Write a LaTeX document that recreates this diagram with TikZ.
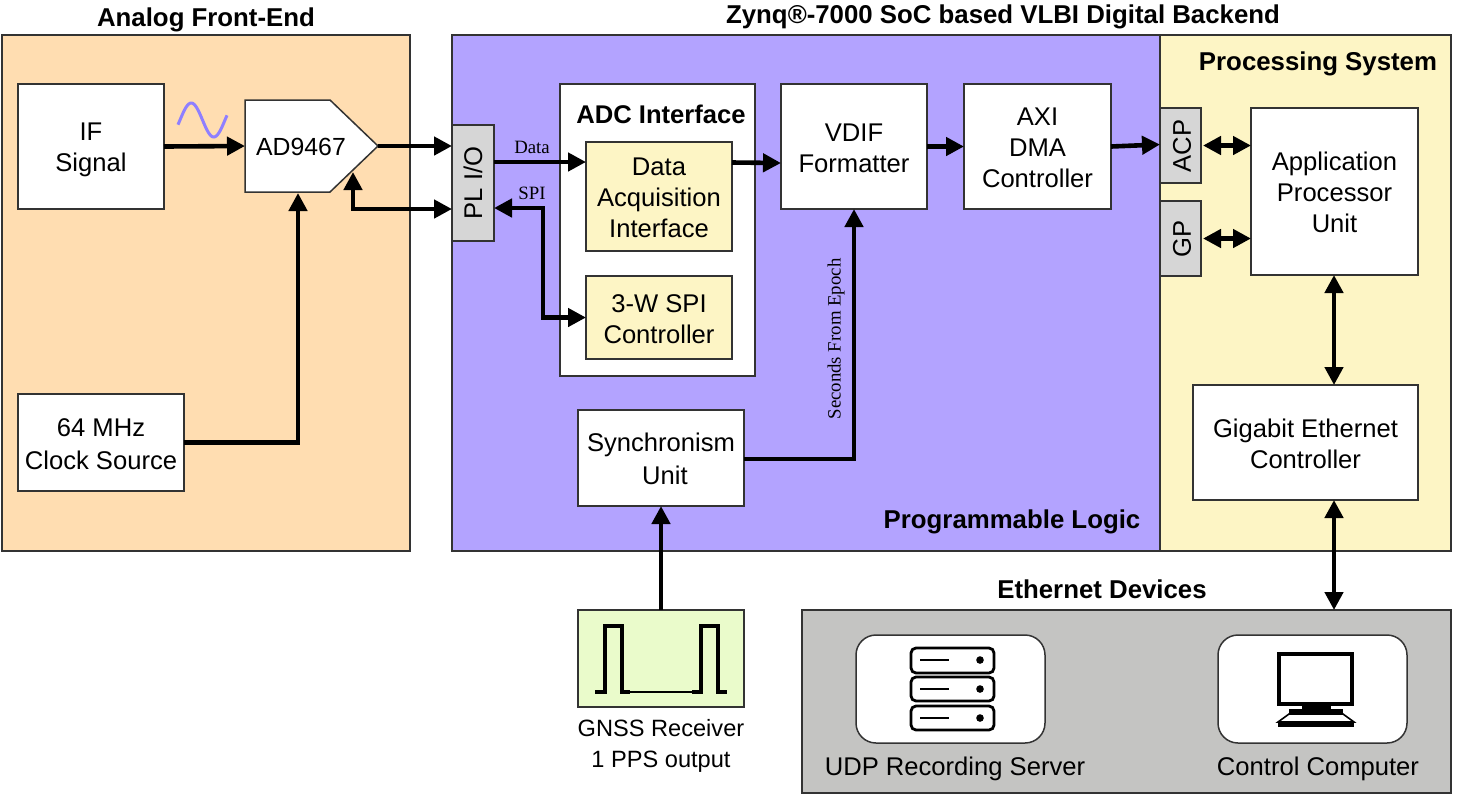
\documentclass[tikz,border=0pt]{standalone}
\usepackage{fontspec}
\setmainfont{Liberation Sans}
\newfontfamily\serifsmall{Liberation Serif}
\usetikzlibrary{arrows.meta,calc}
\definecolor{frontend}{HTML}{FFDDB1}
\definecolor{plogic}{HTML}{B3A3FF}
\definecolor{psys}{HTML}{FDF5C5}
\definecolor{ethgray}{HTML}{C4C4C2}
\definecolor{portgray}{HTML}{D6D6D6}
\definecolor{gnssgreen}{HTML}{EAFBCB}
\definecolor{edge}{HTML}{333333}
\definecolor{sinecol}{HTML}{8F7FFF}
\newcommand{\pxbox}[7]{%
  \pgfmathsetmacro{\bw}{(#4-#2)/2}%
  \pgfmathsetmacro{\bh}{(#5-#3)/2}%
  \pgfmathsetmacro{\bcx}{(#2+#4)/2}%
  \pgfmathsetmacro{\bcy}{(#3+#5)/2}%
  \node[#6,minimum width=\bw pt,minimum height=\bh pt] (#1) at (\bcx,\bcy) {\rule{0pt}{10.6pt}#7};%
}
\tikzset{
  block/.style={draw=edge,line width=0.75pt,fill=white,inner sep=0pt,outer sep=0pt,align=center,font=\fontsize{12.8}{15.5}\selectfont},
  region/.style={block},
  title/.style={inner sep=0pt,outer sep=0pt,font=\fontsize{12.9}{15}\selectfont\bfseries},
  plain/.style={inner sep=0pt,outer sep=0pt,align=center,font=\fontsize{12.8}{15.5}\selectfont},
  gnsslabel/.style={plain,font=\fontsize{11.8}{15.5}\selectfont},
  small/.style={inner sep=0pt,outer sep=0pt,font=\fontsize{9.4}{11}\serifsmall},
  wire/.style={line width=2.3pt,draw=black,-{Triangle[length=9pt,width=9pt]}},
  biwire/.style={line width=2.3pt,draw=black,{Triangle[length=9pt,width=9pt]}-{Triangle[length=9pt,width=9pt]}},
}
\begin{document}
\begin{tikzpicture}[x=0.5pt,y=-0.5pt]
\useasboundingbox (0,0) rectangle (1477,800);
% regions
\pxbox{afe}{2}{35}{410}{551}{region,fill=frontend}{}
\pxbox{pl}{452}{35}{1160}{551}{region,fill=plogic}{}
\pxbox{ps}{1160}{35}{1451}{551}{region,fill=psys}{}
\pxbox{eth}{802}{610}{1451}{793}{region,fill=ethgray}{}
% titles
\node[title] (tafe) at (206,20) {Analog Front-End};
\node[title] (tzynq) at (1003,17) {Zynq®-7000 SoC based VLBI Digital Backend};
\node[title] (tps) at (1318,64) {Processing System};
\node[title] (tpl) at (1012,522) {Programmable Logic};
\node[title] (teth) at (1102,589) {Ethernet Devices};
% blocks
\pxbox{if}{18}{84}{164}{209}{block}{\rule{0pt}{12.6pt}IF\\Signal}
\pxbox{clk}{18}{394}{184}{491}{block}{64 MHz\\[1pt]Clock Source}
% AD9467
\pxbox{ad}{245}{100}{378}{192}{inner sep=0pt,outer sep=0pt}{}
\draw[edge,line width=0.75pt,fill=white] (ad.north west) -- ([xshift=-24pt]ad.north east) -- (ad.east) -- ([xshift=-24pt]ad.south east) -- (ad.south west) -- cycle;
\node[plain,font=\fontsize{12.4}{15}\selectfont] (adtext) at (301,147) {AD9467};
\pxbox{plio}{452}{125}{494}{241}{block,fill=portgray}{}
\node[plain,rotate=90] (pliotext) at (473,183) {PL I/O};
\pxbox{adc}{560}{84}{755}{376}{block}{}
\node[title,font=\fontsize{12.8}{15}\selectfont\bfseries] (adct) at (661,114) {ADC Interface};
\pxbox{daq}{586}{142}{732}{251}{block,fill=psys}{Data\\Acquisition\\Interface}
\pxbox{spi}{586}{276}{732}{359}{block,fill=psys}{3-W SPI\\Controller}
\pxbox{vdif}{781}{84}{927}{209}{block}{VDIF\\Formatter}
\pxbox{axi}{964}{84}{1111}{209}{block}{AXI\\DMA\\Controller}
\pxbox{sync}{578}{410}{744}{506}{block}{Synchronism\\[1pt]\hspace*{4pt}Unit}
\pxbox{acp}{1160}{108}{1201}{183}{block,fill=portgray}{}
\node[plain,rotate=90] (acptext) at (1182,146) {ACP};
\pxbox{gp}{1160}{201}{1201}{276}{block,fill=portgray}{}
\node[plain,rotate=90] (gptext) at (1182,239) {GP};
\pxbox{apu}{1251}{108}{1418}{275}{block}{Application\\Processor\\Unit}
\pxbox{gbe}{1193}{385}{1418}{500}{block}{Gigabit Ethernet\\Controller}
\pxbox{gnss}{578}{610}{744}{707}{block,fill=gnssgreen}{}
\pxbox{srv}{856}{635}{1045}{743}{block,rounded corners=10pt}{}
\pxbox{pc}{1218}{635}{1407}{743}{block,rounded corners=10pt}{}
% plain labels
\node[gnsslabel] (gnsstext) at (661,746) {GNSS Receiver\\1 PPS output};
\node[plain] (srvtext) at (955,769) {UDP Recording Server};
\node[plain] (pctext) at (1318,769) {Control Computer};
\node[small] (ldata) at (532,147) {Data};
\node[small] (lspi) at (532,193) {SPI};
\node[small,rotate=90] (lsec) at (836,339) {Seconds From Epoch};
% sine
\draw[sinecol,line width=1.5pt] plot[domain=178:227,samples=50] (\x,{120+17*sin(8*(\x-202.5))});
% pulses
\draw[black,line width=1.8pt,line join=miter] (595,692) -- (605,692) -- (605,626) -- (622,626) -- (622,692) -- (630,692);
\draw[black,line width=1.4pt] (630,692) -- (692,692);
\draw[black,line width=1.8pt,line join=miter] (692,692) -- (701,692) -- (701,626) -- (718,626) -- (718,692) -- (727,692);
% connectors
\draw[wire] (if.east) -- (ad.west);
\draw[wire] (ad.east) -- ([yshift=18.5pt]plio.west);
\coordinate (adbend) at (353,209);
\coordinate (adtip) at (353,172);
\draw[biwire] ([yshift=-13pt]plio.west) -- (adbend) -- (adtip);
\coordinate (clkbend) at (298,442.5);
\draw[wire] (clk.east) -- (clkbend) -- ([xshift=-6.75pt,yshift=-0.5pt]ad.south);
\draw[wire] ([yshift=10.5pt]plio.east) -- ([yshift=17.25pt]daq.west);
\coordinate (spibend) at (543,208);
\draw[biwire] ([yshift=-12.5pt]plio.east) -- (spibend) |- (spi.west);
\draw[wire] ([yshift=17pt]daq.east) -- ([yshift=-8.25pt]vdif.west);
\draw[wire] (vdif.east) -- (axi.west);
\draw[wire] (axi.east) -- ([yshift=0.5pt]acp.west);
\draw[biwire,shorten <=1pt] (acp.east) -- (acp.east -| apu.west);
\draw[biwire,shorten <=1pt] (gp.east) -- (gp.east -| apu.west);
\draw[biwire] (apu.south -| 1334,0) -- (gbe.north -| 1334,0);
\draw[biwire] (gbe.south -| 1334,0) -- (eth.north -| 1334,0);
\coordinate (syncbend) at (854,459);
\draw[wire] (sync.east |- syncbend) -- (syncbend) -- (vdif.south);
\draw[wire] (gnss.north) -- (sync.south);
% server icon
\foreach \ya/\yb/\ym in {648/673/660,677/701/689,706/730/718}{
  \draw[black,line width=1.4pt,rounded corners=2.5pt,fill=white] (911,\ya) rectangle (994,\yb);
  \draw[black,line width=0.9pt] (920,\ym) -- (949,\ym);
  \fill[black] (980,\ym) circle[radius=1.9pt];
}
% computer icon
\draw[black,line width=2.2pt,fill=white] (1279,654) rectangle (1352,704);
\fill[black] (1302,705) rectangle (1331,710);
\fill[black] (1289,709) rectangle (1343,714);
\draw[black,line width=0.8pt,fill=white] (1289,714) -- (1343,714) -- (1354,722) -- (1278,722) -- cycle;
\fill[black] (1278,722) rectangle (1354,727);
\end{tikzpicture}
\end{document}
